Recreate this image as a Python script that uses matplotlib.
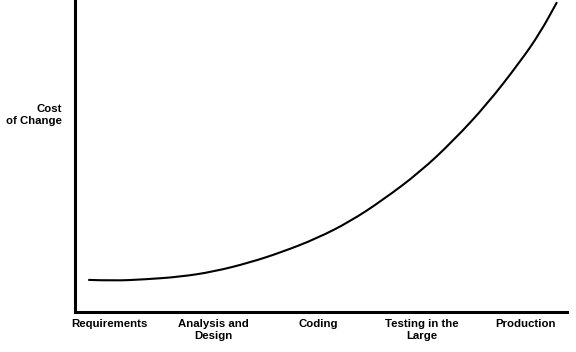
import matplotlib
matplotlib.use("Agg")
import matplotlib.pyplot as plt
from matplotlib.path import Path
from matplotlib.patches import PathPatch

# Development phases along the x axis
phases = ["Requirements", "Analysis and\nDesign", "Coding",
          "Testing in the\nLarge", "Production"]
phase_pos = [0, 1, 2, 3, 4]

# Cost-of-change curve (x in phase units, y relative cost)
curve_x = [-0.205, 0.033, 0.359, 0.676, 0.993, 1.349, 1.666, 1.992,
           2.309, 2.626, 2.982, 3.299, 3.625, 3.942, 4.134, 4.298]
curve_y = [10.2, 9.9, 10.4, 11.2, 12.8, 15.8, 19.3, 23.6,
           29.0, 36.0, 45.0, 55.0, 66.8, 80.5, 89.8, 99.8]

plt.rcParams['font.family'] = ['Liberation Sans', 'DejaVu Sans']

W, H = 576, 352
fig = plt.figure(figsize=(W / 100, H / 100), dpi=100)
ax = fig.add_axes([75 / W, (H - 311.5) / H, (567 - 75) / W, (311.5 - 1.5) / H])

# smooth the read points with quadratic bezier segments (points act as controls)
pts = list(zip(curve_x, curve_y))
verts = [pts[0]]
codes = [Path.MOVETO]
for i in range(1, len(pts) - 1):
    mid = ((pts[i][0] + pts[i + 1][0]) / 2, (pts[i][1] + pts[i + 1][1]) / 2)
    verts += [pts[i], mid]
    codes += [Path.CURVE3, Path.CURVE3]
verts.append(pts[-1])
codes.append(Path.LINETO)
ax.add_patch(PathPatch(Path(verts, codes), fill=False, edgecolor='black',
                       lw=1.5, capstyle='butt'))

ax.set_xlim(-0.332, 4.394)
ax.set_ylim(0, 100)

for s in ['top', 'right']:
    ax.spines[s].set_visible(False)
for s in ['left', 'bottom']:
    ax.spines[s].set_linewidth(2.2)
    ax.spines[s].set_capstyle('projecting')

ax.set_xticks(phase_pos)
ax.set_xticklabels(phases, fontsize=8.2, fontweight='bold', linespacing=1.2)
ax.tick_params(axis='x', length=0, pad=5.5)
ax.set_yticks([])

fig.text(62 / W, 1 - 115 / H, "Cost\nof Change", ha='right', va='center',
         fontsize=8.2, fontweight='bold', linespacing=1.35)

fig.savefig("out.png", dpi=100)
